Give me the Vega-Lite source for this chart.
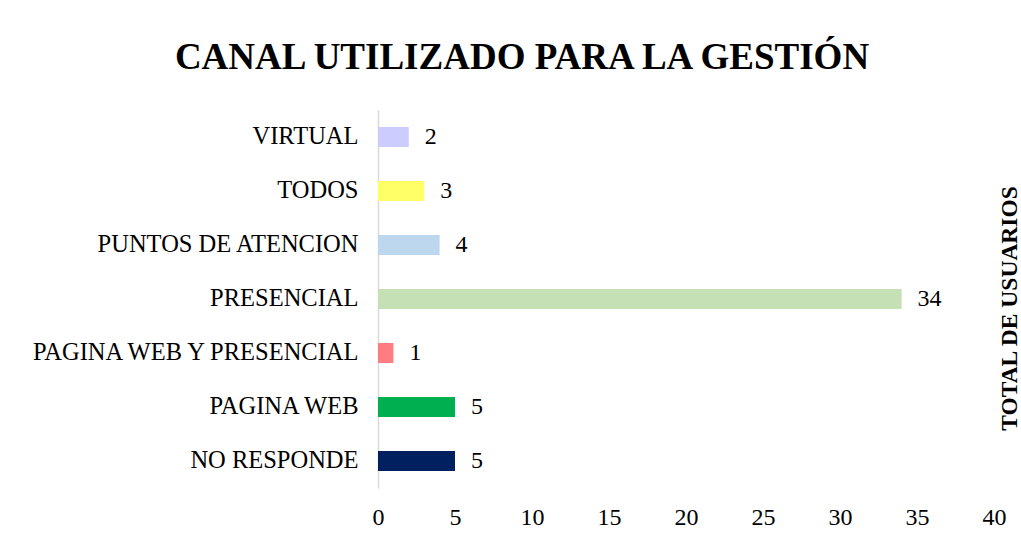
{
  "$schema": "https://vega.github.io/schema/vega-lite/v6.json",
  "autosize": {"type": "none"},
  "width": 616,
  "height": 378,
  "padding": {"left": 378, "top": 110, "right": 27, "bottom": 52},
  "background": "white",
  "config": {
    "view": {"stroke": null},
    "font": "Liberation Serif"
  },
  "title": {
    "text": "CANAL UTILIZADO PARA LA GESTIÓN",
    "font": "Liberation Serif",
    "fontSize": 37,
    "fontWeight": "bold",
    "color": "#000000",
    "anchor": "middle",
    "baseline": "alphabetic",
    "offset": 4,
    "dx": -164
  },
  "data": {
    "values": [
      {"canal": "VIRTUAL", "usuarios": 2},
      {"canal": "TODOS", "usuarios": 3},
      {"canal": "PUNTOS DE ATENCION", "usuarios": 4},
      {"canal": "PRESENCIAL", "usuarios": 34},
      {"canal": "PAGINA WEB Y PRESENCIAL", "usuarios": 1},
      {"canal": "PAGINA WEB", "usuarios": 5},
      {"canal": "NO RESPONDE", "usuarios": 5}
    ]
  },
  "encoding": {
    "y": {
      "field": "canal",
      "type": "nominal",
      "sort": null,
      "scale": {"paddingInner": 0.63, "paddingOuter": 0.315}
    },
    "x": {
      "field": "usuarios",
      "type": "quantitative",
      "scale": {"domain": [0, 40], "nice": false},
      "axis": {
        "values": [0, 5, 10, 15, 20, 25, 30, 35, 40],
        "title": null,
        "grid": false,
        "domain": false,
        "ticks": false,
        "labelFont": "Liberation Serif",
        "labelFontSize": 24,
        "labelColor": "#000000",
        "labelPadding": 17,
        "labelFlush": false
      }
    }
  },
  "layer": [
    {
      "mark": {"type": "bar"},
      "encoding": {
        "color": {
          "field": "canal",
          "type": "nominal",
          "legend": null,
          "scale": {
            "domain": ["VIRTUAL", "TODOS", "PUNTOS DE ATENCION", "PRESENCIAL", "PAGINA WEB Y PRESENCIAL", "PAGINA WEB", "NO RESPONDE"],
            "range": ["#CCCCFF", "#FFFF66", "#BDD7EE", "#C5E0B4", "#FF7C80", "#00B050", "#002060"]
          }
        },
        "y": {
          "field": "canal",
          "type": "nominal",
          "sort": null,
          "axis": {
            "orient": "left",
            "title": null,
            "ticks": false,
            "domain": true,
            "domainColor": "#D9D9D9",
            "domainWidth": 1.5,
            "labelFont": "Liberation Serif",
            "labelFontSize": 24.5,
            "labelColor": "#000000",
            "labelPadding": 20,
            "labelLimit": 400
          }
        }
      }
    },
    {
      "mark": {"type": "text", "align": "left", "baseline": "middle", "dx": 16, "font": "Liberation Serif", "fontSize": 24, "color": "#000000"},
      "encoding": {
        "text": {"field": "usuarios", "type": "quantitative"},
        "y": {
          "field": "canal",
          "type": "nominal",
          "sort": null,
          "axis": {
            "orient": "right",
            "title": "TOTAL DE USUARIOS",
            "titleFont": "Liberation Serif",
            "titleFontSize": 23.5,
            "titleFontWeight": "bold",
            "titleColor": "#000000",
            "titleAngle": 270,
            "titleBaseline": "middle",
            "titlePadding": 15,
            "titleY": 198,
            "labels": false,
            "ticks": false,
            "domain": false,
            "grid": false
          }
        }
      }
    }
  ],
  "resolve": {"axis": {"y": "independent"}}
}
